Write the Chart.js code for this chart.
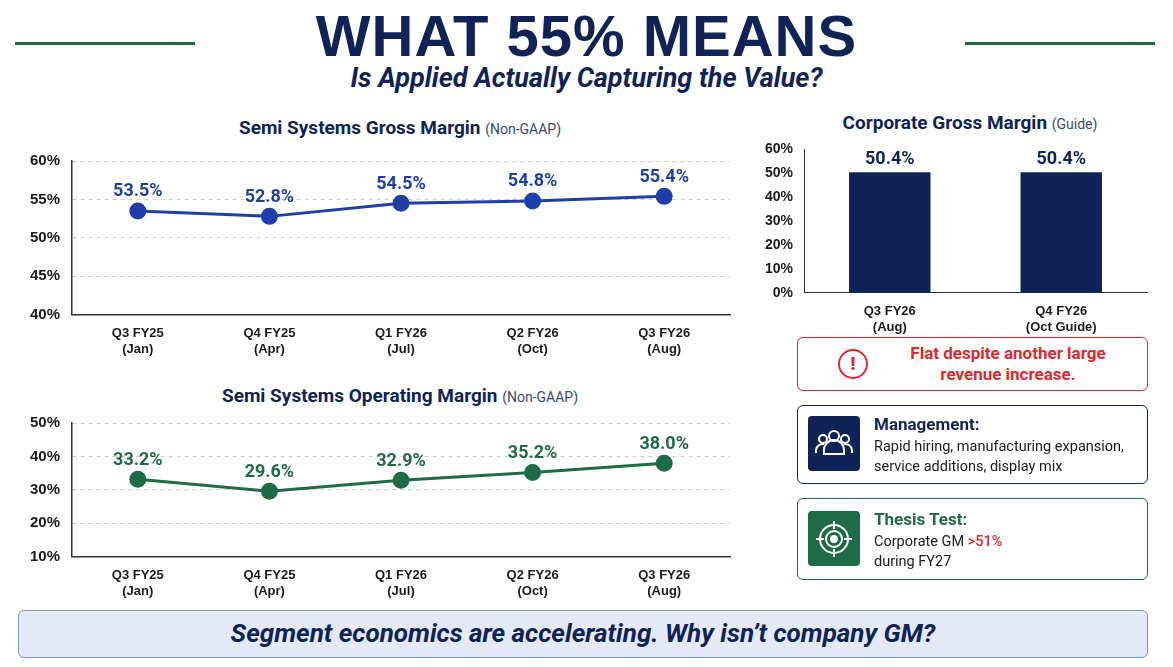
<!DOCTYPE html>
<html><head><meta charset="utf-8">
<script src="https://cdn.jsdelivr.net/npm/chart.js@4"></script>
<style>
body{margin:0;width:1173px;height:667px;background:#fff;font-family:Roboto,"Noto Sans",sans-serif;position:relative;overflow:hidden;color:#0f2356}
.abs{position:absolute}
.rule{position:absolute;top:42px;height:3px;background:#1e6b47}
h1{position:absolute;left:0;width:1173px;top:2px;margin:0;text-align:center;font-size:58px;font-weight:900;letter-spacing:1px;color:#0f2356;font-family:"Liberation Sans",Arial,sans-serif}
.sub{left:0;width:1173px;top:62px;text-align:center;font-size:27px;font-style:italic;font-weight:700}
.ct{font-size:19px;font-weight:700;text-align:center}
.ct span{font-size:14px;font-weight:400;color:#3b4a70}
.box{position:absolute;border-radius:6px;box-sizing:border-box}
</style></head><body>
<div class="rule" style="left:15px;width:180px"></div>
<div class="rule" style="left:965px;width:190px"></div>
<h1>WHAT 55% MEANS</h1>
<div class="abs sub">Is Applied Actually Capturing the Value?</div>

<div class="abs ct" style="left:60px;width:680px;top:116px">Semi Systems Gross Margin <span>(Non-GAAP)</span></div>
<div class="abs" style="left:18px;top:140px;width:722px;height:220px"><canvas id="gm"></canvas></div>

<div class="abs ct" style="left:60px;width:680px;top:384px">Semi Systems Operating Margin <span>(Non-GAAP)</span></div>
<div class="abs" style="left:18px;top:402px;width:722px;height:200px"><canvas id="om"></canvas></div>

<div class="abs ct" style="left:790px;width:360px;top:111px">Corporate Gross Margin <span>(Guide)</span></div>
<div class="abs" style="left:762px;top:138px;width:390px;height:200px"><canvas id="corp"></canvas></div>

<div class="box" style="left:797px;top:337px;width:351px;height:54px;border:1.5px solid #e0282e;background:#fff">
  <div class="abs" style="left:40px;top:11px;width:30px;height:30px;border:2.5px solid #e0282e;border-radius:50%;box-sizing:border-box;color:#e0282e;font-weight:900;font-size:19px;text-align:center;line-height:25px">!</div>
  <div class="abs" style="left:80px;width:260px;top:5px;color:#e0282e;font-weight:700;font-size:17px;text-align:center;line-height:21px">Flat despite another large<br>revenue increase.</div>
</div>

<div class="box" style="left:797px;top:405px;width:351px;height:79px;border:1.5px solid #0f2356">
  <div class="abs" style="left:10px;top:10px;width:52px;height:55px;background:#0f2356;border-radius:4px">
    <svg width="52" height="55" viewBox="0 0 52 55" fill="none" stroke="#fff" stroke-width="2">
      <circle cx="26" cy="20" r="5"/><path d="M16 38v-4a10 10 0 0 1 20 0v4z"/>
      <circle cx="15" cy="23" r="4"/><path d="M8 37v-3a7 7 0 0 1 8-6"/>
      <circle cx="37" cy="23" r="4"/><path d="M44 37v-3a7 7 0 0 0-8-6"/>
    </svg>
  </div>
  <div class="abs" style="left:76px;top:8px;font-weight:700;font-size:17px">Management:</div>
  <div class="abs" style="left:76px;top:31px;font-size:14.5px;color:#1a1a1a;line-height:20px">Rapid hiring, manufacturing expansion,<br>service additions, display mix</div>
</div>

<div class="box" style="left:797px;top:498px;width:351px;height:82px;border:1.5px solid #1e6b47">
  <div class="abs" style="left:10px;top:12px;width:52px;height:55px;background:#1e6b47;border-radius:4px">
    <svg width="52" height="55" viewBox="0 0 52 55" fill="none" stroke="#fff" stroke-width="2">
      <circle cx="26" cy="28" r="14"/><circle cx="26" cy="28" r="8"/><circle cx="26" cy="28" r="3" fill="#fff"/>
      <path d="M26 10v8M26 38v8M8 28h8M36 28h8"/>
    </svg>
  </div>
  <div class="abs" style="left:76px;top:10px;font-weight:700;font-size:17px;color:#1e6b47">Thesis Test:</div>
  <div class="abs" style="left:76px;top:33px;font-size:14.5px;color:#1a1a1a;line-height:20px">Corporate GM <b style="color:#e0282e;font-weight:500">&gt;51%</b><br>during FY27</div>
</div>

<div class="box" style="left:18px;top:610px;width:1130px;height:48px;background:#e3eaf6;border:1.5px solid #7d93c2">
  <div style="text-align:center;font-size:26px;font-weight:700;font-style:italic;line-height:45px">Segment economics are accelerating. Why isn’t company GM?</div>
</div>

<script>
const quarters = [["Q3 FY25","(Jan)"],["Q4 FY25","(Apr)"],["Q1 FY26","(Jul)"],["Q2 FY26","(Oct)"],["Q3 FY26","(Aug)"]];
const grossMargin = [53.5, 52.8, 54.5, 54.8, 55.4];
const opMargin = [33.2, 29.6, 32.9, 35.2, 38.0];
const corpLabels = [["Q3 FY26","(Aug)"],["Q4 FY26","(Oct Guide)"]];
const corpMargin = [50.4, 50.4];

const NAVY = '#0f2356', BLUE = '#1f3fa8', GREEN = '#1e6b47';

const labelPlugin = {
  id: 'vals',
  afterDatasetsDraw(chart, args, opts) {
    const ctx = chart.ctx;
    const meta = chart.getDatasetMeta(0);
    ctx.save();
    ctx.font = 'bold 18px Roboto';
    ctx.fillStyle = opts.color;
    ctx.textAlign = 'center';
    ctx.textBaseline = 'bottom';
    meta.data.forEach((el, i) => {
      ctx.fillText(chart.data.datasets[0].data[i].toFixed(1) + '%', el.x, el.y - opts.off);
    });
    ctx.restore();
  }
};

function lineChart(id, data, color, min, max, step) {
  new Chart(document.getElementById(id), {
    type: 'line',
    data: { labels: quarters, datasets: [{ data, borderColor: color, backgroundColor: color, borderWidth: 3, pointRadius: 7, pointHoverRadius: 7, tension: 0 }] },
    options: {
      responsive: true, maintainAspectRatio: false, animation: false,
      layout: { padding: { left: 0, right: 0, top: 10 } },
      plugins: { legend: { display: false }, tooltip: { enabled: false }, vals: { color, off: 10 } },
      scales: {
        x: { offset: true, grid: { display: false }, border: { color: '#333', width: 1.5 },
             ticks: { color: '#1a1a1a', font: { size: 13, weight: 'bold' } } },
        y: { min, max, ticks: { stepSize: step, padding: 12, color: '#1a1a1a', font: { size: 15, weight: 'bold' }, callback: v => v + '%' },
             grid: { color: '#ccc', drawTicks: false }, border: { dash: [4, 4], display: true, color: '#333', width: 1.5 } }
      }
    },
    plugins: [labelPlugin]
  });
}
lineChart('gm', grossMargin, BLUE, 40, 60, 5);
lineChart('om', opMargin, GREEN, 10, 50, 10);

new Chart(document.getElementById('corp'), {
  type: 'bar',
  data: { labels: corpLabels, datasets: [{ data: corpMargin, backgroundColor: NAVY, barPercentage: 0.95, categoryPercentage: 0.5 }] },
  options: {
    responsive: true, maintainAspectRatio: false, animation: false,
    layout: { padding: { top: 10, right: 5 } },
    plugins: { legend: { display: false }, tooltip: { enabled: false }, vals: { color: NAVY, off: 4 } },
    scales: {
      x: { grid: { display: false }, border: { color: '#333' }, ticks: { color: '#1a1a1a', font: { size: 13, weight: 'bold' } } },
      y: { min: 0, max: 60, ticks: { stepSize: 10, color: '#1a1a1a', font: { size: 14, weight: 'bold' }, callback: v => v + '%' },
           grid: { display: false }, border: { color: '#333' } }
    }
  },
  plugins: [labelPlugin]
});
</script>
</body></html>
